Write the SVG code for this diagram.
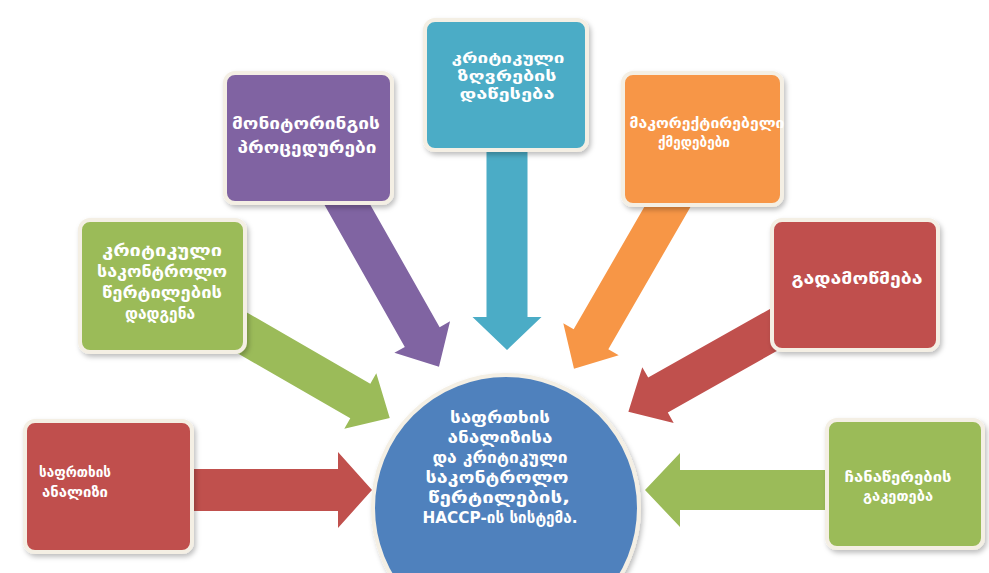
<svg xmlns="http://www.w3.org/2000/svg" width="989" height="573" viewBox="0 0 989 573">
<defs>
<filter id="sh" x="-10%" y="-10%" width="125%" height="125%">
<feDropShadow dx="2" dy="3" stdDeviation="2.5" flood-color="#000" flood-opacity="0.25"/>
</filter>
</defs>
<style>
.box{stroke:#f4efe4;stroke-width:4;filter:url(#sh)}
.t{font-family:"DejaVu Sans","Noto Sans",sans-serif;font-weight:bold;fill:#fff;text-anchor:middle;dominant-baseline:central}
.red{fill:#C0504D}.grn{fill:#9BBB59}.pur{fill:#8064A2}.tea{fill:#4BACC6}.org{fill:#F79646}.blu{fill:#4F81BD}
</style>
<rect width="989" height="573" fill="#fff"/>
<g id="connectors">
<g class="red" transform="translate(170,490)"><path d="M0,-21 L168,-21 L168,-38 L202,0 L168,38 L168,21 L0,21 Z"/></g>
<g class="grn" transform="translate(220,320) rotate(30)"><path d="M0,-20 L162,-20 L162,-32 L196,0 L162,32 L162,20 L0,20 Z"/></g>
<g class="pur" transform="translate(339,190) rotate(60.5)"><path d="M0,-20 L169,-20 L169,-32 L203,0 L169,32 L169,20 L0,20 Z"/></g>
<g class="tea" transform="translate(507,140) rotate(90)"><path d="M0,-20.5 L177,-20.5 L177,-34.5 L210,0 L177,34.5 L177,20.5 L0,20.5 Z"/></g>
<g class="org" transform="translate(676,192) rotate(120)"><path d="M0,-20 L170,-20 L170,-32 L204,0 L170,32 L170,20 L0,20 Z"/></g>
<g class="red" transform="translate(800,315) rotate(150.6)"><path d="M0,-20 L163,-20 L163,-32 L197,0 L163,32 L163,20 L0,20 Z"/></g>
<g class="grn" transform="translate(850,490) rotate(180)"><path d="M0,-20 L170,-20 L170,-37 L205,0 L170,37 L170,20 L0,20 Z"/></g>
</g>
<g id="n1"><rect class="box red" x="25" y="421" width="167" height="131" rx="10"/>
<text class="t" font-size="15"><tspan x="75" y="472" textLength="72" lengthAdjust="spacingAndGlyphs">საფრთხის</tspan><tspan x="75" y="492" textLength="66" lengthAdjust="spacingAndGlyphs">ანალიზი</tspan></text></g>
<g id="n2"><rect class="box grn" x="80" y="220" width="165" height="132" rx="10"/>
<text class="t" font-size="16"><tspan x="162" y="250" textLength="120" lengthAdjust="spacingAndGlyphs">კრიტიკული</tspan><tspan x="162" y="271" textLength="130" lengthAdjust="spacingAndGlyphs">საკონტროლო</tspan><tspan x="162" y="292" textLength="120" lengthAdjust="spacingAndGlyphs">წერტილების</tspan><tspan x="160" y="313" textLength="70" lengthAdjust="spacingAndGlyphs">დადგენა</tspan></text></g>
<g id="n3"><rect class="box pur" x="225" y="73" width="167" height="130" rx="10"/>
<text class="t" font-size="16.5"><tspan x="306" y="123" textLength="148" lengthAdjust="spacingAndGlyphs">მონიტორინგის</tspan><tspan x="307" y="147" textLength="139" lengthAdjust="spacingAndGlyphs">პროცედურები</tspan></text></g>
<g id="n4"><rect class="box tea" x="425" y="20" width="162" height="130" rx="10"/>
<text class="t" font-size="13.5"><tspan x="508" y="58" textLength="113" lengthAdjust="spacingAndGlyphs">კრიტიკული</tspan><tspan x="507" y="76" textLength="99" lengthAdjust="spacingAndGlyphs">ზღვრების</tspan><tspan x="507" y="94" textLength="95" lengthAdjust="spacingAndGlyphs">დაწესება</tspan></text></g>
<g id="n5"><rect class="box org" x="623" y="73" width="159" height="132" rx="10"/>
<text class="t" font-size="14.5"><tspan x="707" y="123" textLength="155" lengthAdjust="spacingAndGlyphs">მაკორექტირებელი</tspan><tspan x="694" y="142" textLength="72" lengthAdjust="spacingAndGlyphs">ქმედებები</tspan></text></g>
<g id="n6"><rect class="box red" x="772" y="220" width="166" height="130" rx="10"/>
<text class="t" font-size="16"><tspan x="857" y="278" textLength="131" lengthAdjust="spacingAndGlyphs">გადამოწმება</tspan></text></g>
<g id="n7"><rect class="box grn" x="827" y="420" width="156" height="128" rx="10"/>
<text class="t" font-size="15"><tspan x="898" y="477" textLength="107" lengthAdjust="spacingAndGlyphs">ჩანაწერების</tspan><tspan x="898" y="496" textLength="70" lengthAdjust="spacingAndGlyphs">გაკეთება</tspan></text></g>
<g id="center"><circle class="box blu" cx="506" cy="508" r="133"/>
<text class="t" font-size="16.5"><tspan x="500" y="417" textLength="100" lengthAdjust="spacingAndGlyphs">საფრთხის</tspan><tspan x="500" y="437" textLength="105" lengthAdjust="spacingAndGlyphs">ანალიზისა</tspan><tspan x="500" y="457" textLength="135" lengthAdjust="spacingAndGlyphs">და კრიტიკული</tspan><tspan x="497" y="477" textLength="143" lengthAdjust="spacingAndGlyphs">საკონტროლო</tspan><tspan x="499" y="497" textLength="142" lengthAdjust="spacingAndGlyphs">წერტილების,</tspan><tspan x="500" y="517" textLength="155" lengthAdjust="spacingAndGlyphs">HACCP-ის სისტემა.</tspan></text></g>
</svg>
